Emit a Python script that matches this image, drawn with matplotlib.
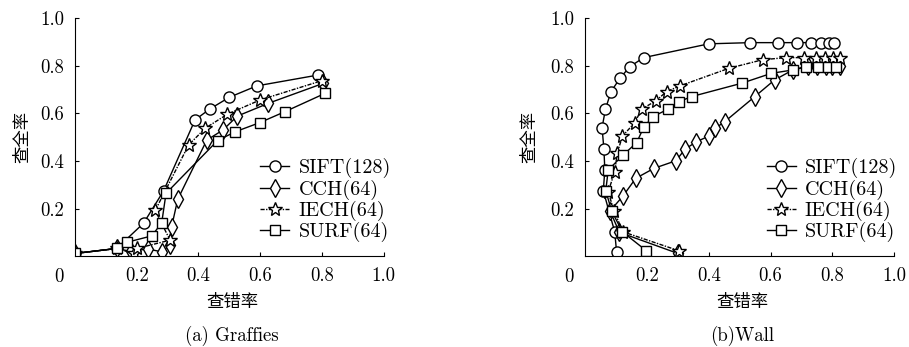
import matplotlib
matplotlib.use("Agg")
import matplotlib.pyplot as plt

plt.rcParams['axes.formatter.use_mathtext'] = True

# ---- data: (a) Graffies ----
g_sift_x = [0.0, 0.135, 0.222, 0.287, 0.389, 0.436, 0.50, 0.589, 0.789]
g_sift_y = [0.011, 0.032, 0.138, 0.274, 0.573, 0.618, 0.668, 0.716, 0.762]
g_cch_x = [0.0, 0.135, 0.18, 0.235, 0.281, 0.308, 0.313, 0.333, 0.427, 0.479, 0.526, 0.627, 0.805]
g_cch_y = [0.011, 0.032, 0.02, 0.03, 0.018, 0.046, 0.123, 0.239, 0.488, 0.53, 0.589, 0.643, 0.727]
g_iech_x = [0.0, 0.135, 0.19, 0.2, 0.308, 0.26, 0.368, 0.422, 0.494, 0.60, 0.80]
g_iech_y = [0.011, 0.032, 0.011, 0.032, 0.067, 0.192, 0.467, 0.538, 0.597, 0.657, 0.738]
g_surf_x = [0.0, 0.135, 0.168, 0.249, 0.281, 0.295, 0.462, 0.519, 0.598, 0.681, 0.811]
g_surf_y = [0.011, 0.032, 0.058, 0.085, 0.14, 0.264, 0.486, 0.523, 0.561, 0.608, 0.685]

# ---- data: (b) Wall ----
w_sift_x = [0.101, 0.095, 0.058, 0.063, 0.06, 0.054, 0.065, 0.083, 0.112, 0.144, 0.189,
            0.40, 0.535, 0.624, 0.685, 0.732, 0.764, 0.789, 0.807]
w_sift_y = [0.018, 0.102, 0.275, 0.362, 0.45, 0.54, 0.618, 0.692, 0.748, 0.797, 0.835,
            0.893, 0.898, 0.898, 0.898, 0.898, 0.898, 0.898, 0.898]
w_cch_x = [0.30, 0.11, 0.08, 0.122, 0.163, 0.222, 0.293, 0.324, 0.36, 0.40, 0.421, 0.451,
           0.549, 0.613, 0.672, 0.72, 0.75, 0.78, 0.80, 0.825]
w_cch_y = [0.011, 0.10, 0.19, 0.253, 0.327, 0.369, 0.401, 0.451, 0.481, 0.505, 0.538, 0.565,
           0.671, 0.741, 0.783, 0.80, 0.80, 0.80, 0.80, 0.80]
w_iech_x = [0.304, 0.122, 0.092, 0.074, 0.095, 0.103, 0.12, 0.16, 0.182, 0.228, 0.263, 0.306,
            0.465, 0.574, 0.65, 0.707, 0.746, 0.778, 0.802, 0.826]
w_iech_y = [0.022, 0.102, 0.191, 0.271, 0.355, 0.432, 0.505, 0.561, 0.618, 0.653, 0.692, 0.716,
            0.79, 0.826, 0.835, 0.835, 0.835, 0.835, 0.835, 0.835]
w_surf_x = [0.198, 0.12, 0.085, 0.066, 0.074, 0.122, 0.166, 0.189, 0.219, 0.268, 0.304, 0.344,
            0.506, 0.603, 0.672, 0.716, 0.753, 0.786, 0.813]
w_surf_y = [0.022, 0.102, 0.19, 0.275, 0.362, 0.425, 0.477, 0.542, 0.587, 0.618, 0.65, 0.671,
            0.727, 0.769, 0.783, 0.795, 0.795, 0.795, 0.795]

labels = ['SIFT(128)', 'CCH(64)', 'IECH(64)', 'SURF(64)']
markers = ['o', 'd', '*', 's']
msizes = [8, 9, 10, 7.5]
styles = ['-', '-', (0, (3, 1, 1, 1)), '-']
tick_vals = [0.2, 0.4, 0.6, 0.8, 1.0]
tick_labels = ['0.2', '0.4', '0.6', '0.8', '1.0']

num_font = 'cmr10'
cjk_font = ['Noto Sans CJK SC', 'DejaVu Sans']

fig = plt.figure(figsize=(9.09, 3.47), dpi=100)
ax1 = fig.add_axes([0.0825, 0.262, 0.3395, 0.685])
ax2 = fig.add_axes([0.644, 0.262, 0.3395, 0.685])

panels = [
    (ax1, [(g_sift_x, g_sift_y), (g_cch_x, g_cch_y), (g_iech_x, g_iech_y), (g_surf_x, g_surf_y)],
     '(a) Graffies', 0.574, -0.171),
    (ax2, [(w_sift_x, w_sift_y), (w_cch_x, w_cch_y), (w_iech_x, w_iech_y), (w_surf_x, w_surf_y)],
     '(b)Wall', 0.561, -0.18),
]

for ax, series, caption, leg_x, ylab_x in panels:
    for (xs, ys), lab, mk, ms, ls in zip(series, labels, markers, msizes, styles):
        ax.plot(xs, ys, linestyle=ls, color='black', linewidth=1.0, marker=mk,
                markersize=ms, markerfacecolor='white', markeredgecolor='black',
                markeredgewidth=1.0, label=lab)
    ax.set_xlim(0, 1.0)
    ax.set_ylim(0, 1.0)
    ax.set_xticks(tick_vals)
    ax.set_xticklabels(tick_labels, fontfamily=num_font, fontsize=13.5)
    ax.set_yticks(tick_vals)
    ax.set_yticklabels(tick_labels, fontfamily=num_font, fontsize=13.5)
    ax.tick_params(direction='in', length=3, width=0.8, pad=8)
    ax.spines['top'].set_visible(False)
    ax.spines['right'].set_visible(False)
    ax.text(-0.052, -0.088, '0', transform=ax.transAxes, fontfamily=num_font,
            fontsize=13.5, ha='center', va='center')
    ax.set_xlabel('查错率', family=cjk_font, fontsize=12.5, va='center')
    ax.xaxis.set_label_coords(0.51, -0.193)
    ax.set_ylabel('查全率', family=cjk_font, fontsize=12.5, va='center')
    ax.yaxis.set_label_coords(ylab_x, 0.5)
    ax.text(0.508, -0.336, caption, transform=ax.transAxes, fontfamily=num_font,
            fontsize=13.5, ha='center', va='center')
    ax.legend(loc='upper left', bbox_to_anchor=(leg_x, 0.445), frameon=False,
              prop={'family': num_font, 'size': 14.5}, handlelength=1.45,
              handletextpad=0.45, labelspacing=0.05, borderaxespad=0)

plt.savefig('out.png', dpi=100)
